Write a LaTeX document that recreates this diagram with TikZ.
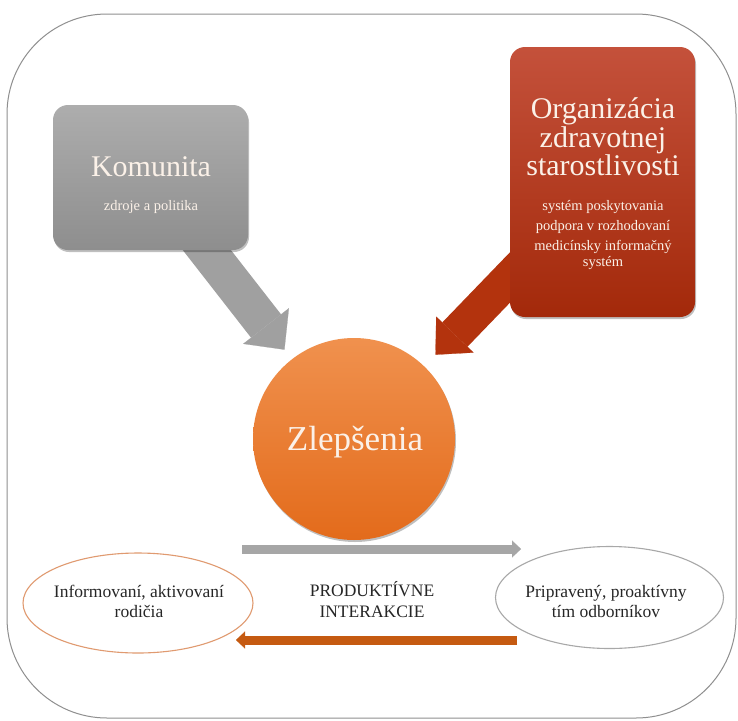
\documentclass[tikz,border=0pt]{standalone}
\usepackage{fontspec}
\setmainfont{Liberation Serif}
\usetikzlibrary{arrows.meta,shapes.geometric,shadows,backgrounds}

\definecolor{frameline}{HTML}{8F8F8F}
\definecolor{komTop}{HTML}{ADADAD}
\definecolor{komBot}{HTML}{8E8E8E}
\definecolor{orgTop}{HTML}{C4513B}
\definecolor{orgBot}{HTML}{A3290A}
\definecolor{circTop}{HTML}{F0914E}
\definecolor{circBot}{HTML}{E36B1B}
\definecolor{bigGray}{HTML}{A0A0A0}
\definecolor{bigRed}{HTML}{B3330D}
\definecolor{flowGray}{HTML}{A6A6A6}
\definecolor{flowOrange}{HTML}{C55A11}
\definecolor{ringOrange}{HTML}{E09A70}
\definecolor{ringGray}{HTML}{A8A8A8}
\definecolor{inkDark}{HTML}{262626}
\definecolor{inkLight}{HTML}{FBF1E8}

\begin{document}
\begin{tikzpicture}[x=1pt,y=-1pt,
  softshadow/.style={drop shadow={shadow xshift=1pt,shadow yshift=-2pt,opacity=.25,fill=black}},
  panel/.style={rounded corners=15pt,inner sep=0pt,softshadow},
  title/.style={anchor=base,font=\fontsize{30}{30}\selectfont,text=inkLight},
  subline/.style={anchor=base,font=\fontsize{14.5}{14.5}\selectfont,text=inkLight},
  plain/.style={anchor=base,font=\fontsize{17.5}{17.5}\selectfont,text=inkDark},
  ring/.style={ellipse,inner sep=0pt,line width=1.1pt,minimum width=230pt,minimum height=100pt},
  fatarrow/.style={line width=#1,line cap=butt},
  flowarrow/.style={line width=9pt,-{Triangle[width=17pt,length=9pt,line width=0.2pt]}}
]
\useasboundingbox (0,0) rectangle (738,720);

% outer frame
\draw[frameline,line width=1pt,rounded corners=100pt] (7,14) rectangle (736,718);

% source panels
\node[panel,top color=komTop,bottom color=komBot,minimum width=195pt,minimum height=145pt]
  (komunita) at (150.5,177.5) {};
\node[panel,top color=orgTop,bottom color=orgBot,minimum width=185pt,minimum height=270pt]
  (org) at (602.5,182) {};

% central circle
\node[circle,inner sep=0pt,minimum size=202pt,top color=circTop,bottom color=circBot,softshadow]
  (zlepsenia) at (354,439) {};

% panel texts
\node[title] (komTitle) at (151,176) {Komunita};
\node[subline] (komSub) at (151,210) {zdroje a politika};

\node[title] (orgT1) at (603,118) {Organizácia};
\node[title] (orgT2) at (603,147) {zdravotnej};
\node[title] (orgT3) at (603,175) {starostlivosti};
\node[subline] (orgS1) at (603,210) {systém poskytovania};
\node[subline] (orgS2) at (603,230) {podpora v rozhodovaní};
\node[subline] (orgS3) at (603,250) {medicínsky informačný};
\node[subline] (orgS4) at (603,266) {systém};

\node[anchor=base,font=\fontsize{35}{35}\selectfont,text=inkLight] (zlTitle) at (355,450) {Zlepšenia};

% lower ellipses and their texts
\node[ring,draw=ringOrange] (parents) at (138,603) {};
\node[ring,draw=ringGray,minimum width=228pt,minimum height=102pt] (team) at (609.5,597.5) {};

\node[plain] (parT1) at (139,597) {Informovaní, aktivovaní};
\node[plain] (parT2) at (139,617) {rodičia};
\node[plain] (midT1) at (372,596) {PRODUKTÍVNE};
\node[plain] (midT2) at (372,617) {INTERAKCIE};
\node[plain] (teamT1) at (606,597) {Pripravený, proaktívny};
\node[plain] (teamT2) at (606,617) {tím odborníkov};

% interaction arrows
\coordinate (toTeamFrom) at (242,549);
\coordinate (toTeamTo) at (521,549);
\coordinate (toParentsFrom) at (517,640);
\coordinate (toParentsTo) at (236,640);
\draw[flowarrow,flowGray] (toTeamFrom) -- (toTeamTo);
\draw[flowarrow,flowOrange] (toParentsFrom) -- (toParentsTo);

% broad arrows into the circle, tucked behind the panels
\begin{scope}[on background layer]
  \fill[white] (0,0) rectangle (738,720);
  \draw[fatarrow=38pt,bigGray,-{Triangle[width=58pt,length=30pt,line width=0.2pt]},
        shorten <=-30pt,shorten >=12pt] (komunita) -- (zlepsenia);
  \draw[fatarrow=35pt,bigRed,-{Triangle[width=52pt,length=28pt,line width=0.2pt]},
        shorten <=-30pt,shorten >=16pt] (org) -- (zlepsenia);
\end{scope}
\end{tikzpicture}
\end{document}
